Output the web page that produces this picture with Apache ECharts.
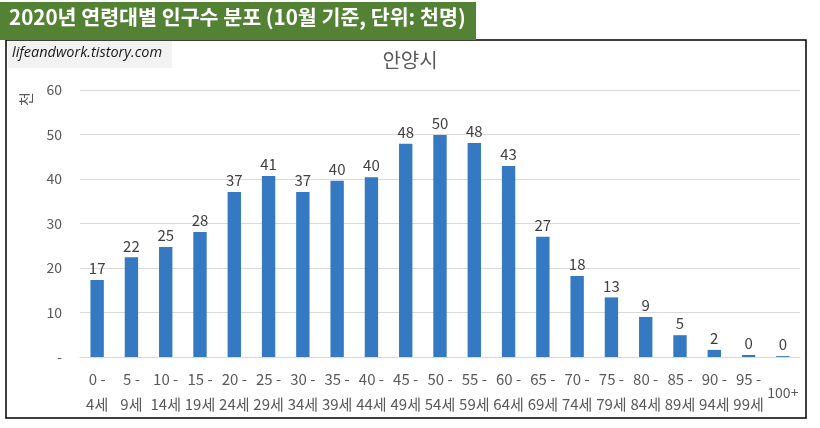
<!DOCTYPE html>
<html>
<head>
<meta charset="utf-8">
<script src="https://cdn.jsdelivr.net/npm/echarts@6/dist/echarts.min.js"></script>
<style>
  html, body { margin: 0; padding: 0; background: #fff; }
  #chart { width: 820px; height: 428px; }
</style>
</head>
<body>
<div id="chart"></div>
<script>
// 연령대 (두 줄 라벨)
const ageGroups = [
  '0 -\n4세', '5 -\n9세', '10 -\n14세', '15 -\n19세', '20 -\n24세', '25 -\n29세', '30 -\n34세',
  '35 -\n39세', '40 -\n44세', '45 -\n49세', '50 -\n54세', '55 -\n59세', '60 -\n64세', '65 -\n69세',
  '70 -\n74세', '75 -\n79세', '80 -\n84세', '85 -\n89세', '90 -\n94세', '95 -\n99세', '100+'
];
// 인구수 (천명)
const population = [
  17.3, 22.4, 24.7, 28.1, 37.1, 40.7, 37.1, 39.6, 40.4, 47.9, 49.9,
  48.1, 42.9, 27.0, 18.2, 13.4, 9.0, 4.9, 1.6, 0.45, 0.2
];
const yTicks = [0, 10, 20, 30, 40, 50, 60];

const FONT = '"Noto Sans CJK KR", "Noto Sans", sans-serif';
const chart = echarts.init(document.getElementById('chart'));

chart.setOption({
  backgroundColor: '#fff',
  animation: false,
  textStyle: { fontFamily: FONT },
  title: {
    text: '안양시',
    left: 'center',
    top: 45,
    textStyle: { fontSize: 20, fontWeight: 'normal', color: '#595959', fontFamily: FONT }
  },
  grid: { left: 80, right: 20, top: 90, bottom: 71 },
  xAxis: {
    type: 'category',
    data: ageGroups,
    axisLine: { lineStyle: { color: '#d9d9d9' } },
    axisTick: { show: false },
    axisLabel: {
      interval: 0,
      margin: 10,
      fontSize: 15,
      color: '#595959',
      lineHeight: 25,
      formatter: function (v) {
        return v.indexOf('\n') < 0 ? '{s|' + v + '}' : v;
      },
      rich: { s: { fontSize: 14, color: '#595959', padding: [26, 0, 0, 0] } }
    }
  },
  yAxis: {
    type: 'value',
    min: yTicks[0],
    max: yTicks[yTicks.length - 1],
    interval: 10,
    axisLine: { show: false },
    axisTick: { show: false },
    splitLine: { lineStyle: { color: '#d9d9d9' } },
    axisLabel: {
      margin: 18,
      fontSize: 14,
      color: '#595959',
      formatter: function (v) { return v === 0 ? '-' : String(v); }
    }
  },
  series: [{
    type: 'bar',
    data: population,
    barWidth: '39%',
    itemStyle: { color: '#3479c2' },
    label: {
      show: true,
      position: 'top',
      distance: 4,
      fontSize: 15,
      color: '#404040',
      formatter: function (p) { return Math.round(p.value); }
    }
  }],
  graphic: [
    {
      type: 'rect', z: 100,
      shape: { x: 6, y: 40, width: 800, height: 378 },
      style: { fill: 'none', stroke: '#000', lineWidth: 1.5 }
    },
    {
      type: 'rect', z: 101,
      shape: { x: 0, y: 2, width: 476, height: 38 },
      style: { fill: '#548235' }
    },
    {
      type: 'text', z: 102, left: 9, top: 7,
      style: {
        text: '2020년 연령대별 인구수 분포 (10월 기준, 단위: 천명)',
        fill: '#fff', fontSize: 20.6, fontWeight: 'bold', fontFamily: FONT
      }
    },
    {
      type: 'rect', z: 101,
      shape: { x: 8, y: 41, width: 164, height: 27 },
      style: { fill: '#f2f2f2' }
    },
    {
      type: 'text', z: 102, left: 12, top: 45,
      style: {
        text: 'lifeandwork.tistory.com',
        fill: '#1a1a1a', fontSize: 14.5, fontStyle: 'italic', fontFamily: '"Open Sans", sans-serif'
      }
    },
    {
      type: 'text', z: 102, x: 19, y: 106, rotation: Math.PI / 2,
      style: { text: '천', fill: '#595959', fontSize: 15, fontFamily: FONT }
    }
  ]
});
</script>
</body>
</html>
